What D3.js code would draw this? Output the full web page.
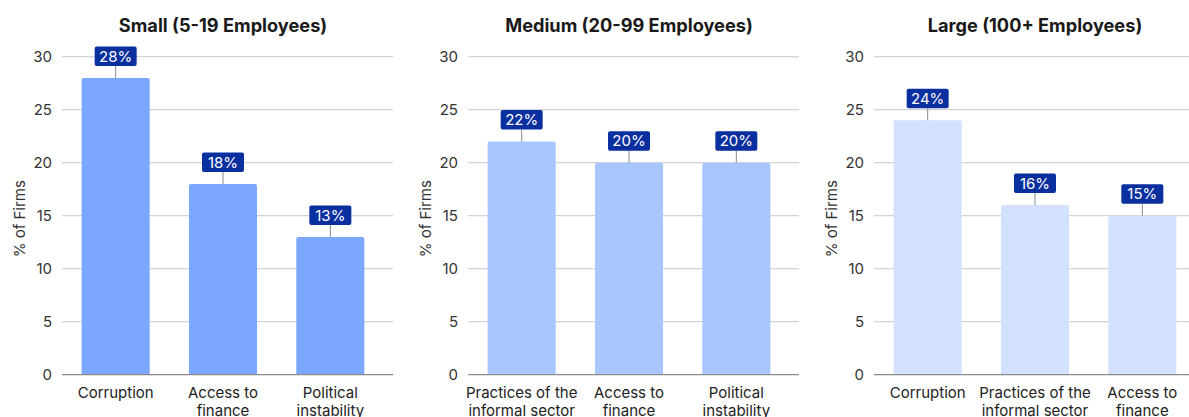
<!DOCTYPE html>
<html>
<head>
<meta charset="utf-8">
<script src="https://cdn.jsdelivr.net/npm/d3@7"></script>
<style>
  html, body { margin: 0; padding: 0; background: #fff; }
  svg { display: block; font-family: Inter, "Noto Sans", sans-serif; }
</style>
</head>
<body>
<svg id="chart" width="1189" height="417"></svg>
<script>
// Top obstacles reported by firm size, % of firms
const panelTitles = ["Small (5-19 Employees)", "Medium (20-99 Employees)", "Large (100+ Employees)"];
const smallCategories = ["Corruption", "Access to finance", "Political instability"];
const smallValues = [28, 18, 13];
const mediumCategories = ["Practices of the informal sector", "Access to finance", "Political instability"];
const mediumValues = [22, 20, 20];
const largeCategories = ["Corruption", "Practices of the informal sector", "Access to finance"];
const largeValues = [24, 16, 15];
const yTicks = [0, 5, 10, 15, 20, 25, 30];
const barColors = ["#7ba7ff", "#a8c6ff", "#d1e1ff"];

// Wrapped x-axis label lines
const labelLines = {
  "Corruption": ["Corruption"],
  "Access to finance": ["Access to", "finance"],
  "Political instability": ["Political", "instability"],
  "Practices of the informal sector": ["Practices of the", "informal sector"]
};

const panels = [
  { title: panelTitles[0], cats: smallCategories, vals: smallValues, color: barColors[0], x0: 62 },
  { title: panelTitles[1], cats: mediumCategories, vals: mediumValues, color: barColors[1], x0: 468 },
  { title: panelTitles[2], cats: largeCategories, vals: largeValues, color: barColors[2], x0: 874 }
];

const svg = d3.select("#chart");
const plotTop = 56.7, plotBottom = 374.7;
const y = d3.scaleLinear().domain([0, 30]).range([plotBottom, plotTop]);

panels.forEach(p => {
  const g = svg.append("g");
  const gridRight = p.x0 + 331;
  const x = d3.scaleBand().domain(p.cats).range([p.x0, p.x0 + 322])
    .paddingInner(0.366).paddingOuter(0.183);

  // gridlines
  g.selectAll("line.grid").data(yTicks.filter(t => t > 0)).join("line")
    .attr("class", "grid")
    .attr("x1", p.x0).attr("x2", gridRight)
    .attr("y1", d => y(d)).attr("y2", d => y(d))
    .attr("stroke", "#d4d4d4").attr("stroke-width", 1.3);

  // y tick labels
  g.selectAll("text.tick").data(yTicks).join("text")
    .attr("class", "tick")
    .attr("x", p.x0 - 10).attr("y", d => y(d)).attr("dy", "0.36em")
    .attr("text-anchor", "end").attr("font-size", 15).attr("fill", "#333")
    .text(d => d);

  // y-axis title
  g.append("text")
    .attr("transform", `translate(${p.x0 - 37},${(plotTop + plotBottom) / 2 + 3}) rotate(-90)`)
    .attr("text-anchor", "middle").attr("font-size", 15).attr("fill", "#333")
    .text("% of Firms");

  // title
  g.append("text")
    .attr("x", p.x0 + 161).attr("y", 31.5)
    .attr("text-anchor", "middle").attr("font-size", 18.2).attr("font-weight", 700)
    .attr("fill", "#1a1a1a")
    .text(p.title);

  const data = p.cats.map((c, i) => ({ c, v: p.vals[i] }));

  // bars with slightly rounded tops
  const r = 2;
  g.selectAll("path.bar").data(data).join("path")
    .attr("class", "bar")
    .attr("fill", p.color)
    .attr("d", d => {
      const x0 = x(d.c), w = x.bandwidth(), yt = y(d.v), yb = y(0);
      return `M${x0},${yb}V${yt + r}Q${x0},${yt} ${x0 + r},${yt}H${x0 + w - r}Q${x0 + w},${yt} ${x0 + w},${yt + r}V${yb}Z`;
    });

  // baseline
  g.append("line")
    .attr("x1", p.x0).attr("x2", gridRight)
    .attr("y1", y(0)).attr("y2", y(0))
    .attr("stroke", "#8a8a8a").attr("stroke-width", 1.3);

  // value callouts
  const bh = 19.5, gap = 12;
  const lab = g.selectAll("g.lab").data(data).join("g").attr("class", "lab");
  lab.append("line")
    .attr("x1", d => x(d.c) + x.bandwidth() / 2).attr("x2", d => x(d.c) + x.bandwidth() / 2)
    .attr("y1", d => y(d.v)).attr("y2", d => y(d.v) - gap)
    .attr("stroke", "#8a8a8a").attr("stroke-width", 1);
  lab.append("rect")
    .attr("x", d => x(d.c) + x.bandwidth() / 2 - 21).attr("width", 42)
    .attr("y", d => y(d.v) - gap - bh).attr("height", bh)
    .attr("rx", 2).attr("fill", "#0a2f9f");
  lab.append("text")
    .attr("x", d => x(d.c) + x.bandwidth() / 2)
    .attr("y", d => y(d.v) - gap - bh / 2).attr("dy", "0.36em")
    .attr("text-anchor", "middle").attr("font-size", 15).attr("fill", "#fff")
    .text(d => d.v + "%");

  // category labels
  const xl = g.selectAll("text.cat").data(data).join("text")
    .attr("class", "cat")
    .attr("text-anchor", "middle").attr("font-size", 15).attr("fill", "#222")
    .attr("x", d => x(d.c) + x.bandwidth() / 2).attr("y", 398);
  xl.selectAll("tspan").data(d => labelLines[d.c].map(t => ({ t, cx: x(d.c) + x.bandwidth() / 2 }))).join("tspan")
    .attr("x", t => t.cx).attr("dy", (t, i) => i === 0 ? 0 : 17.5)
    .text(t => t.t);
});
</script>
</body>
</html>
